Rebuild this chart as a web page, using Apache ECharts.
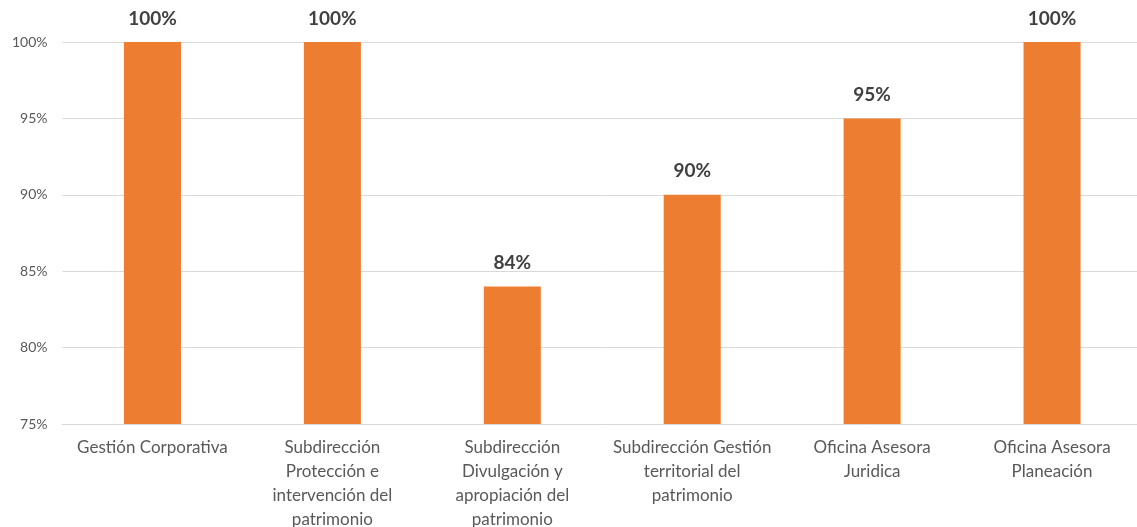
<!DOCTYPE html>
<html>
<head>
<meta charset="utf-8">
<script src="https://cdn.jsdelivr.net/npm/echarts@6/dist/echarts.min.js"></script>
<style>html,body{margin:0;padding:0;background:#fff;overflow:hidden;}#c{width:1137px;height:527px;}</style>
</head>
<body>
<div id="c"></div>
<script>
const categories = [
  "Gestión Corporativa",
  "Subdirección\nProtección e\nintervención del\npatrimonio",
  "Subdirección\nDivulgación y\napropiación del\npatrimonio",
  "Subdirección Gestión\nterritorial del\npatrimonio",
  "Oficina Asesora\nJuridica",
  "Oficina Asesora\nPlaneación"
];
const values = [100, 100, 84, 90, 95, 100];
const yMin = 75, yMax = 100, yStep = 5;

const el = document.getElementById('c');
const chart = echarts.init(el, null, {renderer: 'canvas'});
chart.setOption({
  animation: false,
  grid: {left: 62.5, top: 42, bottom: 103, right: -5, containLabel: false, outerBoundsMode: 'none'},
  xAxis: {
    type: 'category',
    data: categories,
    axisLine: {show: true, lineStyle: {color: '#d9d9d9', width: 1}},
    axisTick: {show: false},
    axisLabel: {
      interval: 0, margin: 12, color: '#595959',
      fontFamily: 'Lato', fontSize: 17, lineHeight: 24
    }
  },
  yAxis: {
    type: 'value', min: yMin, max: yMax, interval: yStep,
    axisLine: {show: false}, axisTick: {show: false},
    splitLine: {lineStyle: {color: '#d9d9d9', width: 1}},
    axisLabel: {
      formatter: v => v + '%', color: '#595959', margin: 15,
      fontFamily: 'Lato', fontSize: 14
    }
  },
  series: [{
    type: 'bar',
    data: values,
    barWidth: '31.7%',
    itemStyle: {color: '#ED7D31'},
    label: {
      show: true, position: 'top', distance: 14,
      formatter: p => p.value + '%',
      color: '#404040', fontWeight: 'bold',
      fontFamily: 'Lato', fontSize: 19
    }
  }]
});
</script>
</body>
</html>
